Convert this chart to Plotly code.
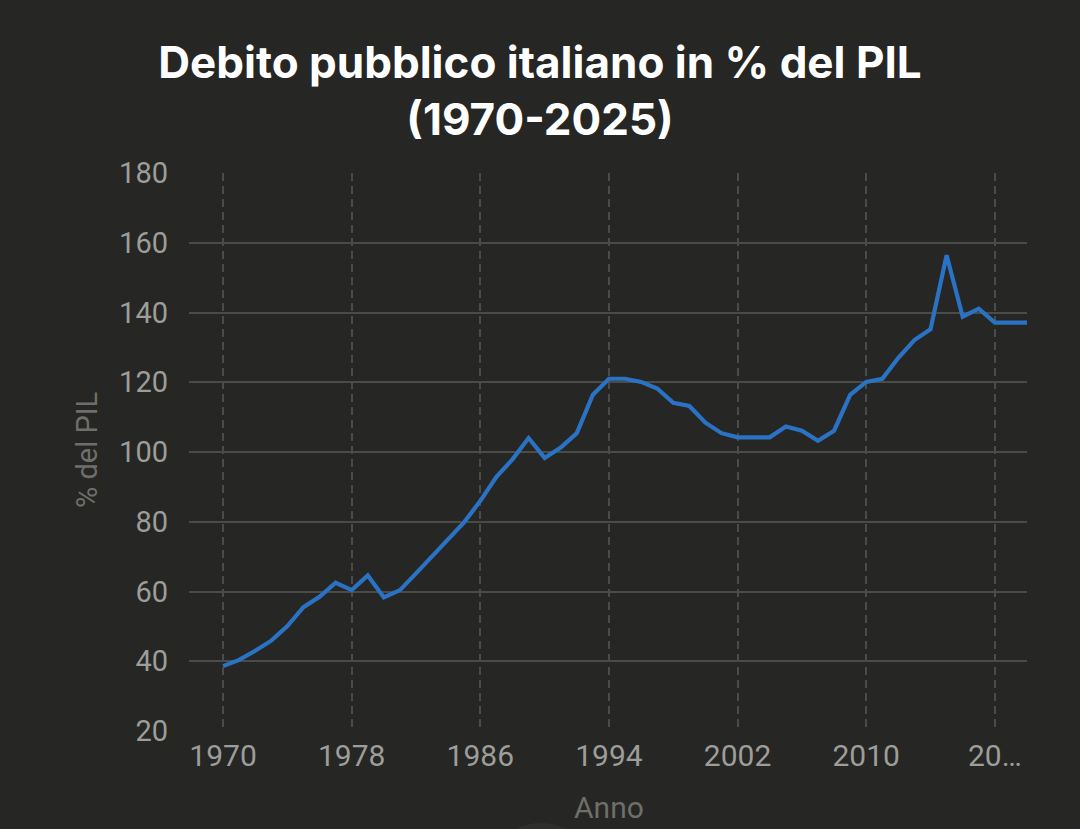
import plotly.graph_objects as go

years = list(range(1970, 2021))
debt = [38.6, 40.4, 43.0, 45.9, 50.1, 55.5, 58.5, 62.5, 60.4, 64.6,
        58.3, 60.4, 65.2, 70.0, 75.0, 79.9, 86.0, 92.9, 97.9, 104.0,
        98.3, 101.3, 105.4, 116.4, 121.0, 121.0, 120.1, 118.2, 114.1, 113.2,
        108.4, 105.4, 104.2, 104.2, 104.2, 107.3, 106.1, 103.2, 106.1, 116.4,
        120.1, 121.0, 127.0, 132.1, 135.2, 156.4, 138.8, 141.1, 137.1, 137.1,
        137.1]

x_tickvals = [1970, 1978, 1986, 1994, 2002, 2010, 2018]
x_ticktext = ["1970", "1978", "1986", "1994", "2002", "2010", "20…"]
y_tickvals = [20, 40, 60, 80, 100, 120, 140, 160, 180]

BG = "#262624"
GRID = "#4b4b49"

fig = go.Figure()
fig.add_trace(go.Scatter(
    x=years, y=debt, mode="lines",
    line=dict(color="#2a72c4", width=4.2),
    hoverinfo="x+y", showlegend=False,
))

L, R, T, B = 189, 53, 173, 98
W, H = 1080, 829
pw, ph = W - L - R, H - T - B

def px_x(px):
    return (px - L) / pw

def px_y(py):
    return (H - B - py) / ph

fig.update_layout(
    width=W, height=H,
    paper_bgcolor=BG, plot_bgcolor=BG,
    margin=dict(l=L, r=R, t=T, b=B),
    title=dict(
        text="Debito pubblico italiano in % del PIL<br>(1970-2025)",
        x=0.5, xanchor="center", xref="container",
        y=1 - 78 / H, yanchor="top", yref="container",
        font=dict(family="Inter, Noto Sans, sans-serif", size=44, color="#ffffff", weight="bold"),
    ),
    xaxis=dict(
        range=[1967.88, 2020.0],
        tickvals=x_tickvals, ticktext=x_ticktext,
        showgrid=True, gridcolor=GRID, gridwidth=1.8, griddash="8px,5px",
        zeroline=False, showline=False, ticks="",
        tickfont=dict(family="Roboto, sans-serif", size=30, color="#9d9d99"),
        ticklabelstandoff=4,
        fixedrange=True,
    ),
    yaxis=dict(
        range=[20, 180],
        tickvals=y_tickvals,
        showgrid=True, gridcolor=GRID, gridwidth=1.6,
        zeroline=False, showline=False, ticks="",
        tickfont=dict(family="Roboto, sans-serif", size=29, color="#9d9d99"),
        ticklabelstandoff=20,
        fixedrange=True,
    ),
    annotations=[
        dict(text="% del PIL", textangle=-90, showarrow=False,
             xref="paper", yref="paper", x=px_x(87), y=px_y(450),
             xanchor="center", yanchor="middle",
             font=dict(family="Roboto, sans-serif", size=29, color="#6e6e6a")),
        dict(text="Anno", showarrow=False,
             xref="paper", yref="paper", x=px_x(609), y=px_y(807),
             xanchor="center", yanchor="middle",
             font=dict(family="Roboto, sans-serif", size=30, color="#6e6e6a")),
    ],
    shapes=[
        dict(type="circle", xref="paper", yref="paper",
             x0=px_x(541 - 57), x1=px_x(541 + 57), y0=px_y(880 + 57), y1=px_y(880 - 57),
             fillcolor="#2e2e2c", line=dict(width=0), layer="below"),
    ],
)

fig.write_html("out.html", config={"displayModeBar": False})
